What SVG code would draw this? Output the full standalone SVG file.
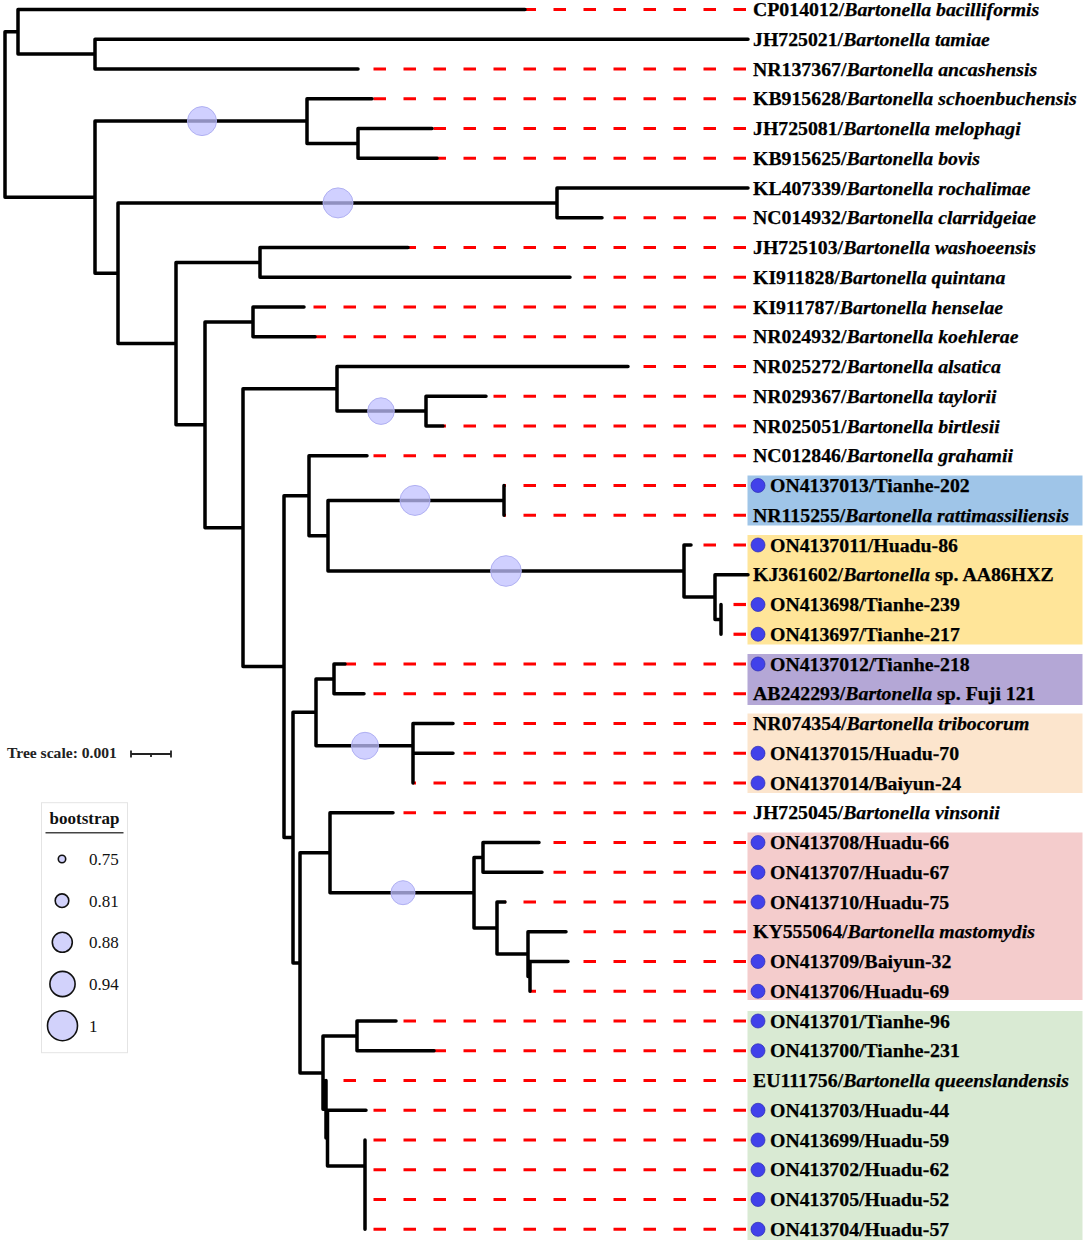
<svg xmlns="http://www.w3.org/2000/svg" width="1084" height="1242" viewBox="0 0 1084 1242">
<style>
.br{stroke:#000;stroke-width:3.5;fill:none;stroke-linecap:round;stroke-linejoin:miter}
.dl{stroke:#ff0000;stroke-width:3.2;fill:none;stroke-dasharray:12.5 17.5}
.bs{fill:#c0c0ff;fill-opacity:0.75;stroke:#b0b0f2;stroke-width:1}
.lab{font-family:"Liberation Serif","Times New Roman",serif;font-weight:bold;font-size:19.8px;fill:#000;stroke:#000;stroke-width:0.25}
.it{font-style:italic}
.dot{fill:#4141ea;stroke:#2c2cb0;stroke-width:0.7}
.lg{font-family:"Liberation Serif","Times New Roman",serif;font-size:17px;fill:#111}
.lc{fill:#d2d2fb;stroke:#111;stroke-width:1.6}
</style>
<rect width="1084" height="1242" fill="#fff"/>
<g id="clade-boxes">
<rect x="747.5" y="475.5" width="335" height="50" fill="#9fc5e8"/>
<rect x="747.5" y="535" width="335" height="109.5" fill="#ffe599"/>
<rect x="747.5" y="654" width="335" height="51" fill="#b4a7d6"/>
<rect x="747.5" y="713.5" width="335" height="79.5" fill="#fce5cd"/>
<rect x="747.5" y="832.5" width="335" height="167.5" fill="#f4cccc"/>
<rect x="747.5" y="1011" width="335" height="229" fill="#d9ead3"/>
</g>
<g id="connectors">
<g id="leader-lines">
<path class="dl" d="M525 9.5H746" stroke-dashoffset="1.5"/>
<path class="dl" d="M358 69H746" stroke-dashoffset="14.5"/>
<path class="dl" d="M372 98.75H746" stroke-dashoffset="28.5"/>
<path class="dl" d="M432 128.5H746" stroke-dashoffset="28.5"/>
<path class="dl" d="M437 158.25H746" stroke-dashoffset="3.5"/>
<path class="dl" d="M602 217.75H746" stroke-dashoffset="18.5"/>
<path class="dl" d="M408 247.5H746" stroke-dashoffset="4.5"/>
<path class="dl" d="M570 277.25H746" stroke-dashoffset="16.5"/>
<path class="dl" d="M304 307H746" stroke-dashoffset="20.5"/>
<path class="dl" d="M315 336.75H746" stroke-dashoffset="1.5"/>
<path class="dl" d="M628 366.5H746" stroke-dashoffset="14.5"/>
<path class="dl" d="M486 396.25H746" stroke-dashoffset="22.5"/>
<path class="dl" d="M443 426H746" stroke-dashoffset="9.5"/>
<path class="dl" d="M367 455.75H746" stroke-dashoffset="23.5"/>
<path class="dl" d="M504 485.5H746" stroke-dashoffset="10.5"/>
<path class="dl" d="M504 515.25H746" stroke-dashoffset="10.5"/>
<path class="dl" d="M691 545H746" stroke-dashoffset="17.5"/>
<path class="dl" d="M721 604.5H746" stroke-dashoffset="17.5"/>
<path class="dl" d="M721 634.25H746" stroke-dashoffset="17.5"/>
<path class="dl" d="M345 664H746" stroke-dashoffset="1.5"/>
<path class="dl" d="M364 693.75H746" stroke-dashoffset="20.5"/>
<path class="dl" d="M453 723.5H746" stroke-dashoffset="19.5"/>
<path class="dl" d="M453 753.25H746" stroke-dashoffset="19.5"/>
<path class="dl" d="M413 783H746" stroke-dashoffset="9.5"/>
<path class="dl" d="M393 812.75H746" stroke-dashoffset="19.5"/>
<path class="dl" d="M539 842.5H746" stroke-dashoffset="15.5"/>
<path class="dl" d="M542 872.25H746" stroke-dashoffset="18.5"/>
<path class="dl" d="M505 902H746" stroke-dashoffset="11.5"/>
<path class="dl" d="M566 931.75H746" stroke-dashoffset="12.5"/>
<path class="dl" d="M568 961.5H746" stroke-dashoffset="14.5"/>
<path class="dl" d="M530 991.25H746" stroke-dashoffset="6.5"/>
<path class="dl" d="M396 1021H746" stroke-dashoffset="22.5"/>
<path class="dl" d="M434 1050.75H746" stroke-dashoffset="0.5"/>
<path class="dl" d="M326 1080.5H746" stroke-dashoffset="12.5"/>
<path class="dl" d="M366 1110.25H746" stroke-dashoffset="22.5"/>
<path class="dl" d="M365 1140H746" stroke-dashoffset="21.5"/>
<path class="dl" d="M365 1169.75H746" stroke-dashoffset="21.5"/>
<path class="dl" d="M365 1199.5H746" stroke-dashoffset="21.5"/>
<path class="dl" d="M365 1229.25H746" stroke-dashoffset="21.5"/>
</g>
<path id="tree-branches" class="br" d="
M5 31.8V197.2
M5 31.8H18 M18 9.5V54.1 M18 9.5H525 M18 54.1H95 M95 39.25V69 M95 39.25H748 M95 69H358
M5 197.2H95 M95 121.1V273.2
M95 121.1H307 M307 98.75V143.4 M307 98.75H372 M307 143.4H358 M358 128.5V158.25 M358 128.5H432 M358 158.25H437
M95 273.2H118 M118 202.9V343.6
M118 202.9H557 M557 188V217.75 M557 188H748 M557 217.75H602
M118 343.6H176 M176 262.4V424.8
M176 262.4H260 M260 247.5V277.25 M260 247.5H408 M260 277.25H570
M176 424.8H205 M205 321.9V527.7
M205 321.9H253 M253 307V336.75 M253 307H304 M253 336.75H315
M205 527.7H243 M243 388.8V666.6
M243 388.8H337 M337 366.5V411.1 M337 366.5H628 M337 411.1H426 M426 396.25V426 M426 396.25H486 M426 426H443
M243 666.6H284 M284 495.7V837.6
M284 495.7H309 M309 455.75V535.7 M309 455.75H367 M309 535.7H328 M328 500.4V571
M328 500.4H504 M504 485.5V515.25
M328 571H684 M684 545V597.1 M684 545H691 M684 597.1H715 M715 574.75V619.4 M715 574.75H748 M715 619.4H721 M721 604.5V634.25
M284 837.6H293 M293 712.3V962.9
M293 712.3H316 M316 678.9V745.8 M316 678.9H334 M334 664V693.75 M334 664H345 M334 693.75H364 M316 745.8H413 M413 723.5V783 M413 723.5H453 M413 753.25H453
M293 962.9H300 M300 852.7V1073
M300 852.7H330 M330 812.75V892.7 M330 812.75H393 M330 892.7H474 M474 857.4V928 M474 857.4H483 M483 842.5V872.25 M483 842.5H539 M483 872.25H542 M474 928H497 M497 902V954.1 M497 902H505 M497 954.1H528 M528 931.75V976.4 M528 931.75H566 M528 976.4H530 M530 961.5V991.25 M530 961.5H568
M300 1073H323 M323 1035.9V1109.3 M323 1035.9H357 M357 1021V1050.75 M357 1021H396 M357 1050.75H434 M323 1109.3H326 M326 1080.5V1138 M326 1138H327.5 M327.5 1110.25V1166 M327.5 1110.25H366 M327.5 1166H365 M365 1140V1229.25"/>
</g>
<g id="bootstrap-marks">
<circle class="bs" cx="202" cy="121.1" r="14.5"/>
<circle class="bs" cx="338" cy="202.9" r="15"/>
<circle class="bs" cx="381" cy="411.1" r="13.3"/>
<circle class="bs" cx="415" cy="500.4" r="15"/>
<circle class="bs" cx="506" cy="571" r="15.3"/>
<circle class="bs" cx="365" cy="745.8" r="13.5"/>
<circle class="bs" cx="403" cy="892.7" r="12"/>
</g>
<g id="leaf-labels" class="lab">
<g id="n-CP014012"><text x="753" y="16">CP014012/<tspan class="it">Bartonella bacilliformis</tspan></text></g>
<g id="n-JH725021"><text x="753" y="45.75">JH725021/<tspan class="it">Bartonella tamiae</tspan></text></g>
<g id="n-NR137367"><text x="753" y="75.5">NR137367/<tspan class="it">Bartonella ancashensis</tspan></text></g>
<g id="n-KB915628"><text x="753" y="105.25">KB915628/<tspan class="it">Bartonella schoenbuchensis</tspan></text></g>
<g id="n-JH725081"><text x="753" y="135">JH725081/<tspan class="it">Bartonella melophagi</tspan></text></g>
<g id="n-KB915625"><text x="753" y="164.75">KB915625/<tspan class="it">Bartonella bovis</tspan></text></g>
<g id="n-KL407339"><text x="753" y="194.5">KL407339/<tspan class="it">Bartonella rochalimae</tspan></text></g>
<g id="n-NC014932"><text x="753" y="224.25">NC014932/<tspan class="it">Bartonella clarridgeiae</tspan></text></g>
<g id="n-JH725103"><text x="753" y="254">JH725103/<tspan class="it">Bartonella washoeensis</tspan></text></g>
<g id="n-KI911828"><text x="753" y="283.75">KI911828/<tspan class="it">Bartonella quintana</tspan></text></g>
<g id="n-KI911787"><text x="753" y="313.5">KI911787/<tspan class="it">Bartonella henselae</tspan></text></g>
<g id="n-NR024932"><text x="753" y="343.25">NR024932/<tspan class="it">Bartonella koehlerae</tspan></text></g>
<g id="n-NR025272"><text x="753" y="373">NR025272/<tspan class="it">Bartonella alsatica</tspan></text></g>
<g id="n-NR029367"><text x="753" y="402.75">NR029367/<tspan class="it">Bartonella taylorii</tspan></text></g>
<g id="n-NR025051"><text x="753" y="432.5">NR025051/<tspan class="it">Bartonella birtlesii</tspan></text></g>
<g id="n-NC012846"><text x="753" y="462.25">NC012846/<tspan class="it">Bartonella grahamii</tspan></text></g>
<g id="n-ON4137013"><circle class="dot" cx="758" cy="485.5" r="7"/><text x="770" y="492">ON4137013/Tianhe-202</text></g>
<g id="n-NR115255"><text x="753" y="521.75">NR115255/<tspan class="it">Bartonella rattimassiliensis</tspan></text></g>
<g id="n-ON4137011"><circle class="dot" cx="758" cy="545" r="7"/><text x="770" y="551.5">ON4137011/Huadu-86</text></g>
<g id="n-KJ361602"><text x="753" y="581.25">KJ361602/<tspan class="it">Bartonella</tspan> sp. AA86HXZ</text></g>
<g id="n-ON413698"><circle class="dot" cx="758" cy="604.5" r="7"/><text x="770" y="611">ON413698/Tianhe-239</text></g>
<g id="n-ON413697"><circle class="dot" cx="758" cy="634.25" r="7"/><text x="770" y="640.75">ON413697/Tianhe-217</text></g>
<g id="n-ON4137012"><circle class="dot" cx="758" cy="664" r="7"/><text x="770" y="670.5">ON4137012/Tianhe-218</text></g>
<g id="n-AB242293"><text x="753" y="700.25">AB242293/<tspan class="it">Bartonella</tspan> sp. Fuji 121</text></g>
<g id="n-NR074354"><text x="753" y="730">NR074354/<tspan class="it">Bartonella tribocorum</tspan></text></g>
<g id="n-ON4137015"><circle class="dot" cx="758" cy="753.25" r="7"/><text x="770" y="759.75">ON4137015/Huadu-70</text></g>
<g id="n-ON4137014"><circle class="dot" cx="758" cy="783" r="7"/><text x="770" y="789.5">ON4137014/Baiyun-24</text></g>
<g id="n-JH725045"><text x="753" y="819.25">JH725045/<tspan class="it">Bartonella vinsonii</tspan></text></g>
<g id="n-ON413708"><circle class="dot" cx="758" cy="842.5" r="7"/><text x="770" y="849">ON413708/Huadu-66</text></g>
<g id="n-ON413707"><circle class="dot" cx="758" cy="872.25" r="7"/><text x="770" y="878.75">ON413707/Huadu-67</text></g>
<g id="n-ON413710"><circle class="dot" cx="758" cy="902" r="7"/><text x="770" y="908.5">ON413710/Huadu-75</text></g>
<g id="n-KY555064"><text x="753" y="938.25">KY555064/<tspan class="it">Bartonella mastomydis</tspan></text></g>
<g id="n-ON413709"><circle class="dot" cx="758" cy="961.5" r="7"/><text x="770" y="968">ON413709/Baiyun-32</text></g>
<g id="n-ON413706"><circle class="dot" cx="758" cy="991.25" r="7"/><text x="770" y="997.75">ON413706/Huadu-69</text></g>
<g id="n-ON413701"><circle class="dot" cx="758" cy="1021" r="7"/><text x="770" y="1027.5">ON413701/Tianhe-96</text></g>
<g id="n-ON413700"><circle class="dot" cx="758" cy="1050.75" r="7"/><text x="770" y="1057.25">ON413700/Tianhe-231</text></g>
<g id="n-EU111756"><text x="753" y="1087">EU111756/<tspan class="it">Bartonella queenslandensis</tspan></text></g>
<g id="n-ON413703"><circle class="dot" cx="758" cy="1110.25" r="7"/><text x="770" y="1116.75">ON413703/Huadu-44</text></g>
<g id="n-ON413699"><circle class="dot" cx="758" cy="1140" r="7"/><text x="770" y="1146.5">ON413699/Huadu-59</text></g>
<g id="n-ON413702"><circle class="dot" cx="758" cy="1169.75" r="7"/><text x="770" y="1176.25">ON413702/Huadu-62</text></g>
<g id="n-ON413705"><circle class="dot" cx="758" cy="1199.5" r="7"/><text x="770" y="1206">ON413705/Huadu-52</text></g>
<g id="n-ON413704"><circle class="dot" cx="758" cy="1229.25" r="7"/><text x="770" y="1235.75">ON413704/Huadu-57</text></g>
</g>
<g id="tree-scale">
<text x="7" y="757.5" font-family="Liberation Serif, Times New Roman, serif" font-weight="bold" font-size="15.6" fill="#222">Tree scale: 0.001</text>
<path d="M131 754H171 M131 750.5V757.5 M171 750.5V757.5 M151 754V757" stroke="#222" stroke-width="1.8" fill="none"/>
</g>
<g id="legend">
<rect x="41.5" y="802.7" width="86" height="250" fill="#fff" stroke="#e4e4e4" stroke-width="1"/>
<text x="84.5" y="824" text-anchor="middle" class="lg" font-weight="bold" font-size="17.5">bootstrap</text>
<path d="M45.5 832.7H123.5" stroke="#444" stroke-width="1.6"/>
<circle class="lc" cx="62" cy="859" r="3.7"/>
<circle class="lc" cx="62" cy="900.7" r="6.8"/>
<circle class="lc" cx="62.3" cy="942.3" r="10"/>
<circle class="lc" cx="62.5" cy="984" r="12.6"/>
<circle class="lc" cx="62.5" cy="1025.7" r="15"/>
<text class="lg" x="89" y="865">0.75</text>
<text class="lg" x="89" y="906.7">0.81</text>
<text class="lg" x="89" y="948.3">0.88</text>
<text class="lg" x="89" y="990">0.94</text>
<text class="lg" x="89" y="1031.7">1</text>
</g>
</svg>
